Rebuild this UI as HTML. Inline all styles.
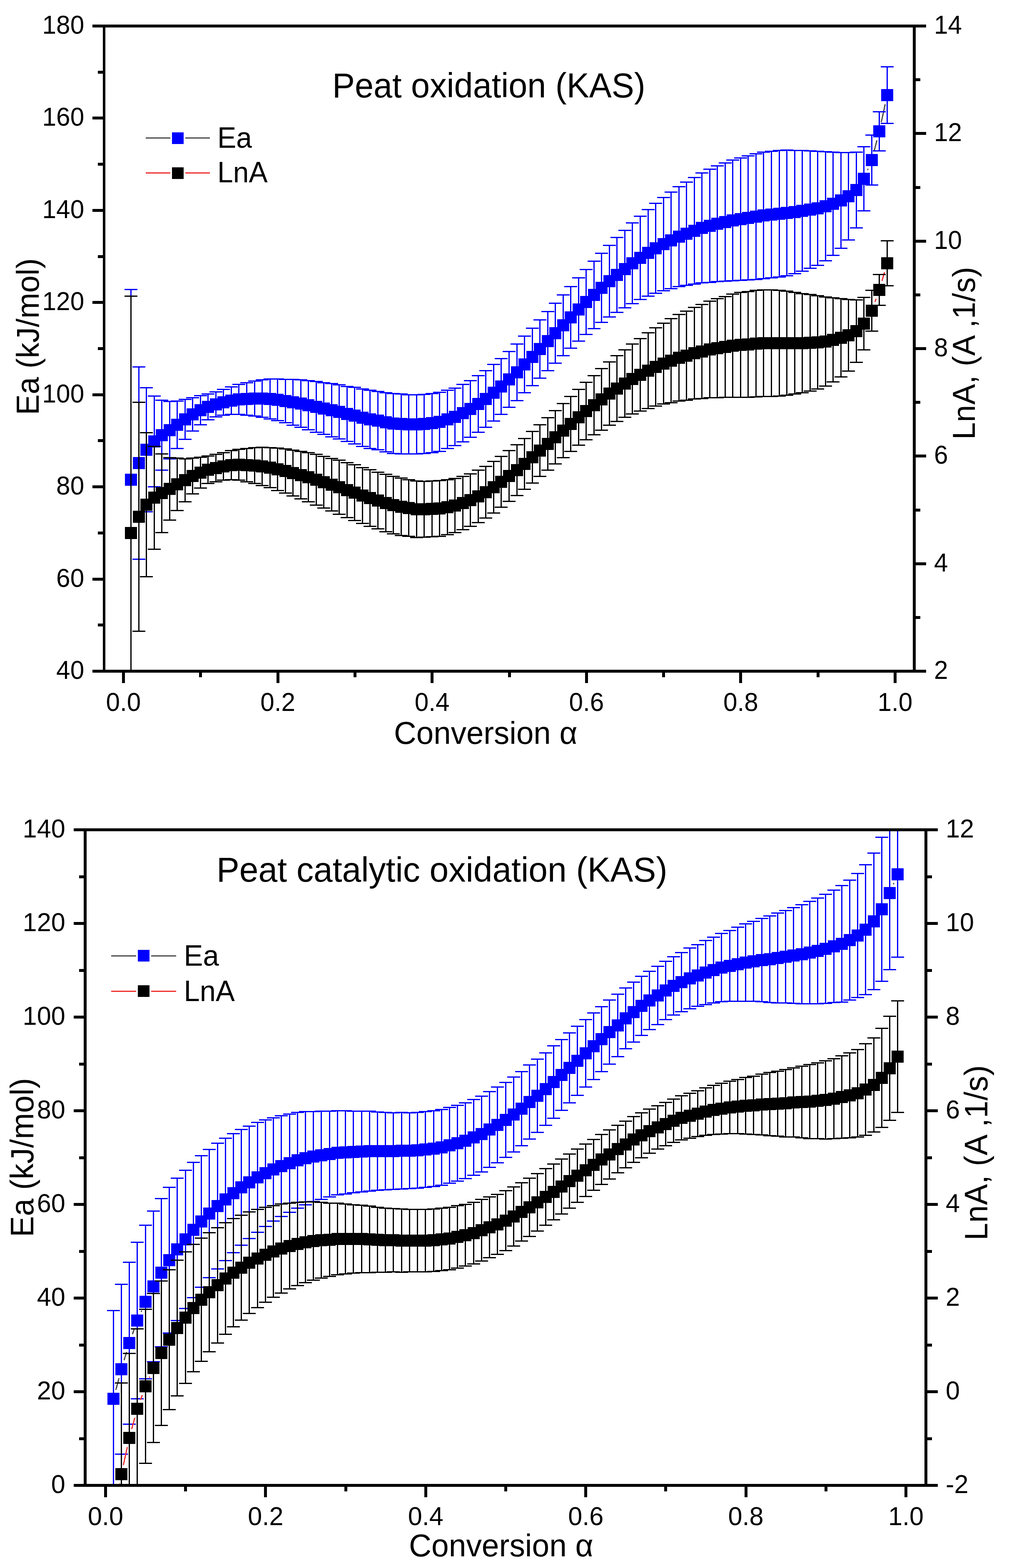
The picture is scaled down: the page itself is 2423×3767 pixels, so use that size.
<!DOCTYPE html>
<html lang="en"><head><meta charset="utf-8"><title>Peat oxidation kinetics (KAS)</title>
<style>html,body{margin:0;padding:0;background:#fff}svg{display:block}text{font-family:'Liberation Sans', sans-serif}</style>
</head><body>
<svg width="2423" height="3767" viewBox="0 0 2423 3767" role="img" aria-label="Activation energy Ea and LnA versus conversion for peat oxidation and peat catalytic oxidation (KAS)">
<rect width="2423" height="3767" fill="#fff"/>
<clipPath id="clip1"><rect x="250" y="62.5" width="1945.5" height="1550"/></clipPath>
<g clip-path="url(#clip1)" shape-rendering="crispEdges">
<path d="M2083.3 408.8L2084.7 405.2M2099.2 362.7L2105.8 337.3M2116.3 293.5L2125.7 250.5" stroke="#4d4d4d" stroke-width="3" fill="none"/>
<path d="M314.5 695.5V1609.5M299 695.5h31M333.5 881.5V1343.5M318 881.5h31M318 1343.5h31M351.5 931.5V1229.5M336 931.5h31M336 1229.5h31M370.5 951.5V1169.5M355 951.5h31M355 1169.5h31M388.5 961.5V1129.5M373 961.5h31M373 1129.5h31M407.5 964.5V1102.5M392 964.5h31M392 1102.5h31M425.5 963.5V1077.5M410 963.5h31M410 1077.5h31M444.5 959.5V1055.5M429 959.5h31M429 1055.5h31M462.5 955.5V1035.5M447 955.5h31M447 1035.5h31M481.5 950.5V1020.5M466 950.5h31M466 1020.5h31M499.5 946.5V1008.5M484 946.5h31M484 1008.5h31M518.5 941.5V1001.5M503 941.5h31M503 1001.5h31M536.5 935.5V997.5M521 935.5h31M521 997.5h31M555.5 929.5V995.5M540 929.5h31M540 995.5h31M573.5 923.5V995.5M558 923.5h31M558 995.5h31M592.5 919.5V997.5M577 919.5h31M577 997.5h31M611.5 915.5V999.5M596 915.5h31M596 999.5h31M629.5 912.5V1002.5M614 912.5h31M614 1002.5h31M648.5 910.5V1006.5M633 910.5h31M633 1006.5h31M666.5 910.5V1010.5M651 910.5h31M651 1010.5h31M685.5 911.5V1015.5M670 911.5h31M670 1015.5h31M703.5 911.5V1021.5M688 911.5h31M688 1021.5h31M722.5 912.5V1026.5M707 912.5h31M707 1026.5h31M740.5 914.5V1032.5M725 914.5h31M725 1032.5h31M759.5 916.5V1038.5M744 916.5h31M744 1038.5h31M777.5 919.5V1043.5M762 919.5h31M762 1043.5h31M796.5 921.5V1049.5M781 921.5h31M781 1049.5h31M814.5 924.5V1054.5M799 924.5h31M799 1054.5h31M833.5 928.5V1060.5M818 928.5h31M818 1060.5h31M851.5 930.5V1066.5M836 930.5h31M836 1066.5h31M870.5 934.5V1072.5M855 934.5h31M855 1072.5h31M888.5 937.5V1077.5M873 937.5h31M873 1077.5h31M907.5 940.5V1080.5M892 940.5h31M892 1080.5h31M926.5 943.5V1085.5M911 943.5h31M911 1085.5h31M944.5 945.5V1089.5M929 945.5h31M929 1089.5h31M963.5 946.5V1090.5M948 946.5h31M948 1090.5h31M981.5 948.5V1090.5M966 948.5h31M966 1090.5h31M1000.5 948.5V1090.5M985 948.5h31M985 1090.5h31M1018.5 947.5V1089.5M1003 947.5h31M1003 1089.5h31M1037.5 945.5V1087.5M1022 945.5h31M1022 1087.5h31M1055.5 942.5V1084.5M1040 942.5h31M1040 1084.5h31M1074.5 937.5V1077.5M1059 937.5h31M1059 1077.5h31M1092.5 932.5V1070.5M1077 932.5h31M1077 1070.5h31M1111.5 923.5V1061.5M1096 923.5h31M1096 1061.5h31M1129.5 914.5V1050.5M1114 914.5h31M1114 1050.5h31M1148.5 902.5V1038.5M1133 902.5h31M1133 1038.5h31M1166.5 890.5V1026.5M1151 890.5h31M1151 1026.5h31M1185.5 875.5V1011.5M1170 875.5h31M1170 1011.5h31M1203.5 861.5V995.5M1188 861.5h31M1188 995.5h31M1222.5 844.5V978.5M1207 844.5h31M1207 978.5h31M1241.5 826.5V962.5M1226 826.5h31M1226 962.5h31M1259.5 807.5V943.5M1244 807.5h31M1244 943.5h31M1278.5 788.5V926.5M1263 788.5h31M1263 926.5h31M1296.5 768.5V908.5M1281 768.5h31M1281 908.5h31M1315.5 748.5V890.5M1300 748.5h31M1300 890.5h31M1333.5 728.5V872.5M1318 728.5h31M1318 872.5h31M1352.5 708.5V854.5M1337 708.5h31M1337 854.5h31M1370.5 688.5V836.5M1355 688.5h31M1355 836.5h31M1389.5 667.5V819.5M1374 667.5h31M1374 819.5h31M1407.5 647.5V803.5M1392 647.5h31M1392 803.5h31M1426.5 627.5V789.5M1411 627.5h31M1411 789.5h31M1444.5 608.5V774.5M1429 608.5h31M1429 774.5h31M1463.5 589.5V761.5M1448 589.5h31M1448 761.5h31M1481.5 570.5V750.5M1466 570.5h31M1466 750.5h31M1500.5 553.5V739.5M1485 553.5h31M1485 739.5h31M1518.5 535.5V729.5M1503 535.5h31M1503 729.5h31M1537.5 519.5V719.5M1522 519.5h31M1522 719.5h31M1556.5 503.5V711.5M1541 503.5h31M1541 711.5h31M1574.5 488.5V704.5M1559 488.5h31M1559 704.5h31M1593.5 474.5V698.5M1578 474.5h31M1578 698.5h31M1611.5 461.5V693.5M1596 461.5h31M1596 693.5h31M1630.5 448.5V688.5M1615 448.5h31M1615 688.5h31M1648.5 437.5V685.5M1633 437.5h31M1633 685.5h31M1667.5 426.5V682.5M1652 426.5h31M1652 682.5h31M1685.5 415.5V679.5M1670 415.5h31M1670 679.5h31M1704.5 406.5V678.5M1689 406.5h31M1689 678.5h31M1722.5 398.5V676.5M1707 398.5h31M1707 676.5h31M1741.5 391.5V675.5M1726 391.5h31M1726 675.5h31M1759.5 384.5V674.5M1744 384.5h31M1744 674.5h31M1778.5 379.5V673.5M1763 379.5h31M1763 673.5h31M1796.5 374.5V672.5M1781 374.5h31M1781 672.5h31M1815.5 369.5V671.5M1800 369.5h31M1800 671.5h31M1833.5 365.5V669.5M1818 365.5h31M1818 669.5h31M1852.5 363.5V667.5M1837 363.5h31M1837 667.5h31M1871.5 361.5V665.5M1856 361.5h31M1856 665.5h31M1889.5 360.5V662.5M1874 360.5h31M1874 662.5h31M1908.5 361.5V657.5M1893 361.5h31M1893 657.5h31M1926.5 361.5V651.5M1911 361.5h31M1911 651.5h31M1945.5 362.5V644.5M1930 362.5h31M1930 644.5h31M1963.5 363.5V637.5M1948 363.5h31M1948 637.5h31M1982.5 364.5V626.5M1967 364.5h31M1967 626.5h31M2000.5 365.5V613.5M1985 365.5h31M1985 613.5h31M2019.5 366.5V596.5M2004 366.5h31M2004 596.5h31M2037.5 366.5V576.5M2022 366.5h31M2022 576.5h31M2056.5 365.5V547.5M2041 365.5h31M2041 547.5h31M2074.5 352.5V506.5M2059 352.5h31M2059 506.5h31M2093.5 324.5V444.5M2078 324.5h31M2078 444.5h31M2111.5 268.5V362.5M2096 268.5h31M2096 362.5h31M2130.5 160.5V296.5M2115 160.5h31M2115 296.5h31" stroke="#0000ff" stroke-width="3" fill="none"/>
<path d="M300 1138h29v29h-29zM319 1098h29v29h-29zM337 1066h29v29h-29zM356 1046h29v29h-29zM374 1031h29v29h-29zM393 1019h29v29h-29zM411 1006h29v29h-29zM430 993h29v29h-29zM448 981h29v29h-29zM467 971h29v29h-29zM485 963h29v29h-29zM504 957h29v29h-29zM522 952h29v29h-29zM541 948h29v29h-29zM559 945h29v29h-29zM578 944h29v29h-29zM597 943h29v29h-29zM615 943h29v29h-29zM634 944h29v29h-29zM652 946h29v29h-29zM671 949h29v29h-29zM689 952h29v29h-29zM708 955h29v29h-29zM726 959h29v29h-29zM745 963h29v29h-29zM763 967h29v29h-29zM782 971h29v29h-29zM800 975h29v29h-29zM819 980h29v29h-29zM837 984h29v29h-29zM856 989h29v29h-29zM874 993h29v29h-29zM893 996h29v29h-29zM912 1000h29v29h-29zM930 1003h29v29h-29zM949 1004h29v29h-29zM967 1005h29v29h-29zM986 1005h29v29h-29zM1004 1004h29v29h-29zM1023 1002h29v29h-29zM1041 999h29v29h-29zM1060 993h29v29h-29zM1078 987h29v29h-29zM1097 978h29v29h-29zM1115 968h29v29h-29zM1134 956h29v29h-29zM1152 944h29v29h-29zM1171 929h29v29h-29zM1189 914h29v29h-29zM1208 897h29v29h-29zM1227 880h29v29h-29zM1245 861h29v29h-29zM1264 843h29v29h-29zM1282 824h29v29h-29zM1301 805h29v29h-29zM1319 786h29v29h-29zM1338 767h29v29h-29zM1356 748h29v29h-29zM1375 729h29v29h-29zM1393 711h29v29h-29zM1412 694h29v29h-29zM1430 677h29v29h-29zM1449 661h29v29h-29zM1467 646h29v29h-29zM1486 632h29v29h-29zM1504 618h29v29h-29zM1523 605h29v29h-29zM1542 593h29v29h-29zM1560 582h29v29h-29zM1579 572h29v29h-29zM1597 563h29v29h-29zM1616 554h29v29h-29zM1634 547h29v29h-29zM1653 540h29v29h-29zM1671 533h29v29h-29zM1690 528h29v29h-29zM1708 523h29v29h-29zM1727 519h29v29h-29zM1745 515h29v29h-29zM1764 512h29v29h-29zM1782 509h29v29h-29zM1801 506h29v29h-29zM1819 503h29v29h-29zM1838 501h29v29h-29zM1857 499h29v29h-29zM1875 497h29v29h-29zM1894 495h29v29h-29zM1912 492h29v29h-29zM1931 489h29v29h-29zM1949 486h29v29h-29zM1968 481h29v29h-29zM1986 475h29v29h-29zM2005 467h29v29h-29zM2023 457h29v29h-29zM2042 442h29v29h-29zM2060 415h29v29h-29zM2079 370h29v29h-29zM2097 301h29v29h-29zM2116 214h29v29h-29z" fill="#0000ff"/>
<path d="M2101.1 725.3L2103.9 717.7M2117.9 674.9L2124.1 654.1" stroke="#f03232" stroke-width="3" fill="none"/>
<path d="M314.5 711.5V1849.5M299 711.5h31M333.5 966.5V1516.5M318 966.5h31M318 1516.5h31M351.5 1039.5V1385.5M336 1039.5h31M336 1385.5h31M370.5 1072.5V1319.5M355 1072.5h31M355 1319.5h31M388.5 1090.5V1279.5M373 1090.5h31M373 1279.5h31M407.5 1099.5V1249.5M392 1099.5h31M392 1249.5h31M425.5 1100.5V1226.5M410 1100.5h31M410 1226.5h31M444.5 1102.5V1205.5M429 1102.5h31M429 1205.5h31M462.5 1100.5V1186.5M447 1100.5h31M447 1186.5h31M481.5 1098.5V1172.5M466 1098.5h31M466 1172.5h31M499.5 1095.5V1161.5M484 1095.5h31M484 1161.5h31M518.5 1091.5V1157.5M503 1091.5h31M503 1157.5h31M536.5 1087.5V1153.5M521 1087.5h31M521 1153.5h31M555.5 1082.5V1152.5M540 1082.5h31M540 1152.5h31M573.5 1079.5V1153.5M558 1079.5h31M558 1153.5h31M592.5 1077.5V1157.5M577 1077.5h31M577 1157.5h31M611.5 1075.5V1161.5M596 1075.5h31M596 1161.5h31M629.5 1074.5V1166.5M614 1074.5h31M614 1166.5h31M648.5 1075.5V1171.5M633 1075.5h31M633 1171.5h31M666.5 1076.5V1178.5M651 1076.5h31M651 1178.5h31M685.5 1078.5V1184.5M670 1078.5h31M670 1184.5h31M703.5 1081.5V1191.5M688 1081.5h31M688 1191.5h31M722.5 1084.5V1198.5M707 1084.5h31M707 1198.5h31M740.5 1087.5V1205.5M725 1087.5h31M725 1205.5h31M759.5 1091.5V1213.5M744 1091.5h31M744 1213.5h31M777.5 1096.5V1220.5M762 1096.5h31M762 1220.5h31M796.5 1101.5V1227.5M781 1101.5h31M781 1227.5h31M814.5 1105.5V1235.5M799 1105.5h31M799 1235.5h31M833.5 1111.5V1243.5M818 1111.5h31M818 1243.5h31M851.5 1116.5V1250.5M836 1116.5h31M836 1250.5h31M870.5 1123.5V1257.5M855 1123.5h31M855 1257.5h31M888.5 1128.5V1264.5M873 1128.5h31M873 1264.5h31M907.5 1134.5V1270.5M892 1134.5h31M892 1270.5h31M926.5 1139.5V1277.5M911 1139.5h31M911 1277.5h31M944.5 1144.5V1282.5M929 1144.5h31M929 1282.5h31M963.5 1148.5V1286.5M948 1148.5h31M948 1286.5h31M981.5 1152.5V1288.5M966 1152.5h31M966 1288.5h31M1000.5 1155.5V1291.5M985 1155.5h31M985 1291.5h31M1018.5 1156.5V1290.5M1003 1156.5h31M1003 1290.5h31M1037.5 1155.5V1289.5M1022 1155.5h31M1022 1289.5h31M1055.5 1154.5V1288.5M1040 1154.5h31M1040 1288.5h31M1074.5 1152.5V1284.5M1059 1152.5h31M1059 1284.5h31M1092.5 1149.5V1279.5M1077 1149.5h31M1077 1279.5h31M1111.5 1144.5V1272.5M1096 1144.5h31M1096 1272.5h31M1129.5 1138.5V1264.5M1114 1138.5h31M1114 1264.5h31M1148.5 1129.5V1255.5M1133 1129.5h31M1133 1255.5h31M1166.5 1120.5V1244.5M1151 1120.5h31M1151 1244.5h31M1185.5 1108.5V1232.5M1170 1108.5h31M1170 1232.5h31M1203.5 1096.5V1218.5M1188 1096.5h31M1188 1218.5h31M1222.5 1082.5V1204.5M1207 1082.5h31M1207 1204.5h31M1241.5 1068.5V1190.5M1226 1068.5h31M1226 1190.5h31M1259.5 1053.5V1175.5M1244 1053.5h31M1244 1175.5h31M1278.5 1036.5V1160.5M1263 1036.5h31M1263 1160.5h31M1296.5 1020.5V1144.5M1281 1020.5h31M1281 1144.5h31M1315.5 1003.5V1129.5M1300 1003.5h31M1300 1129.5h31M1333.5 986.5V1114.5M1318 986.5h31M1318 1114.5h31M1352.5 969.5V1099.5M1337 969.5h31M1337 1099.5h31M1370.5 952.5V1084.5M1355 952.5h31M1355 1084.5h31M1389.5 935.5V1069.5M1374 935.5h31M1374 1069.5h31M1407.5 918.5V1056.5M1392 918.5h31M1392 1056.5h31M1426.5 902.5V1044.5M1411 902.5h31M1411 1044.5h31M1444.5 885.5V1033.5M1429 885.5h31M1429 1033.5h31M1463.5 869.5V1021.5M1448 869.5h31M1448 1021.5h31M1481.5 854.5V1012.5M1466 854.5h31M1466 1012.5h31M1500.5 840.5V1002.5M1485 840.5h31M1485 1002.5h31M1518.5 826.5V994.5M1503 826.5h31M1503 994.5h31M1537.5 813.5V987.5M1522 813.5h31M1522 987.5h31M1556.5 799.5V981.5M1541 799.5h31M1541 981.5h31M1574.5 787.5V975.5M1559 787.5h31M1559 975.5h31M1593.5 776.5V970.5M1578 776.5h31M1578 970.5h31M1611.5 765.5V967.5M1596 765.5h31M1596 967.5h31M1630.5 755.5V963.5M1615 755.5h31M1615 963.5h31M1648.5 747.5V961.5M1633 747.5h31M1633 961.5h31M1667.5 738.5V958.5M1652 738.5h31M1652 958.5h31M1685.5 731.5V957.5M1670 731.5h31M1670 957.5h31M1704.5 723.5V955.5M1689 723.5h31M1689 955.5h31M1722.5 717.5V955.5M1707 717.5h31M1707 955.5h31M1741.5 712.5V954.5M1726 712.5h31M1726 954.5h31M1759.5 706.5V954.5M1744 706.5h31M1744 954.5h31M1778.5 702.5V954.5M1763 702.5h31M1763 954.5h31M1796.5 700.5V954.5M1781 700.5h31M1781 954.5h31M1815.5 697.5V953.5M1800 697.5h31M1800 953.5h31M1833.5 696.5V952.5M1818 696.5h31M1818 952.5h31M1852.5 696.5V952.5M1837 696.5h31M1837 952.5h31M1871.5 697.5V951.5M1856 697.5h31M1856 951.5h31M1889.5 699.5V949.5M1874 699.5h31M1874 949.5h31M1908.5 702.5V946.5M1893 702.5h31M1893 946.5h31M1926.5 705.5V943.5M1911 705.5h31M1911 943.5h31M1945.5 707.5V939.5M1930 707.5h31M1930 939.5h31M1963.5 710.5V934.5M1948 710.5h31M1948 934.5h31M1982.5 713.5V927.5M1967 713.5h31M1967 927.5h31M2000.5 715.5V917.5M1985 715.5h31M1985 917.5h31M2019.5 717.5V905.5M2004 717.5h31M2004 905.5h31M2037.5 719.5V891.5M2022 719.5h31M2022 891.5h31M2056.5 720.5V870.5M2041 720.5h31M2041 870.5h31M2074.5 714.5V840.5M2059 714.5h31M2059 840.5h31M2093.5 697.5V795.5M2078 697.5h31M2078 795.5h31M2111.5 659.5V733.5M2096 659.5h31M2096 733.5h31M2130.5 578.5V686.5M2115 578.5h31M2115 686.5h31" stroke="#000000" stroke-width="3" fill="none"/>
<path d="M300 1266h29v29h-29zM319 1227h29v29h-29zM337 1198h29v29h-29zM356 1181h29v29h-29zM374 1170h29v29h-29zM393 1160h29v29h-29zM411 1149h29v29h-29zM430 1139h29v29h-29zM448 1129h29v29h-29zM467 1121h29v29h-29zM485 1114h29v29h-29zM504 1110h29v29h-29zM522 1106h29v29h-29zM541 1103h29v29h-29zM559 1102h29v29h-29zM578 1103h29v29h-29zM597 1104h29v29h-29zM615 1106h29v29h-29zM634 1109h29v29h-29zM652 1113h29v29h-29zM671 1117h29v29h-29zM689 1122h29v29h-29zM708 1127h29v29h-29zM726 1132h29v29h-29zM745 1138h29v29h-29zM763 1144h29v29h-29zM782 1150h29v29h-29zM800 1156h29v29h-29zM819 1163h29v29h-29zM837 1169h29v29h-29zM856 1176h29v29h-29zM874 1182h29v29h-29zM893 1188h29v29h-29zM912 1194h29v29h-29zM930 1199h29v29h-29zM949 1203h29v29h-29zM967 1206h29v29h-29zM986 1209h29v29h-29zM1004 1209h29v29h-29zM1023 1208h29v29h-29zM1041 1207h29v29h-29zM1060 1204h29v29h-29zM1078 1200h29v29h-29zM1097 1194h29v29h-29zM1115 1187h29v29h-29zM1134 1178h29v29h-29zM1152 1168h29v29h-29zM1171 1156h29v29h-29zM1189 1143h29v29h-29zM1208 1129h29v29h-29zM1227 1115h29v29h-29zM1245 1100h29v29h-29zM1264 1084h29v29h-29zM1282 1068h29v29h-29zM1301 1052h29v29h-29zM1319 1036h29v29h-29zM1338 1020h29v29h-29zM1356 1004h29v29h-29zM1375 988h29v29h-29zM1393 973h29v29h-29zM1412 959h29v29h-29zM1430 945h29v29h-29zM1449 931h29v29h-29zM1467 919h29v29h-29zM1486 907h29v29h-29zM1504 896h29v29h-29zM1523 886h29v29h-29zM1542 876h29v29h-29zM1560 867h29v29h-29zM1579 859h29v29h-29zM1597 852h29v29h-29zM1616 845h29v29h-29zM1634 840h29v29h-29zM1653 834h29v29h-29zM1671 830h29v29h-29zM1690 825h29v29h-29zM1708 822h29v29h-29zM1727 819h29v29h-29zM1745 816h29v29h-29zM1764 814h29v29h-29zM1782 813h29v29h-29zM1801 811h29v29h-29zM1819 810h29v29h-29zM1838 810h29v29h-29zM1857 810h29v29h-29zM1875 810h29v29h-29zM1894 810h29v29h-29zM1912 810h29v29h-29zM1931 809h29v29h-29zM1949 808h29v29h-29zM1968 806h29v29h-29zM1986 802h29v29h-29zM2005 797h29v29h-29zM2023 791h29v29h-29zM2042 781h29v29h-29zM2060 763h29v29h-29zM2079 732h29v29h-29zM2097 682h29v29h-29zM2116 618h29v29h-29z" fill="#000000"/>
</g>
<path d="M250 62.5V1612.5" stroke="#000" stroke-width="6" fill="none" shape-rendering="crispEdges"/>
<path d="M222 62.5H2224M222 1612.5H2224M2195.5 62.5V1612.5M235 1501.8H250M222 1391.1H250M235 1280.4H250M222 1169.6H250M235 1058.9H250M222 948.2H250M235 837.5H250M222 726.8H250M235 616.1H250M222 505.4H250M235 394.6H250M222 283.9H250M235 173.2H250M2195.5 1483.3H2210M2195.5 1354.2H2224M2195.5 1225H2210M2195.5 1095.8H2224M2195.5 966.7H2210M2195.5 837.5H2224M2195.5 708.3H2210M2195.5 579.2H2224M2195.5 450H2210M2195.5 320.8H2224M2195.5 191.7H2210M296.5 1612.5V1641M481.8 1612.5V1627M667.1 1612.5V1641M852.4 1612.5V1627M1037.7 1612.5V1641M1223 1612.5V1627M1408.3 1612.5V1641M1593.6 1612.5V1627M1778.9 1612.5V1641M1964.2 1612.5V1627M2149.5 1612.5V1641" stroke="#000" stroke-width="7" fill="none" shape-rendering="crispEdges"/>
<g font-size="60.3" fill="#000">
<text transform="translate(202.2 1631) scale(1 1.035)" text-anchor="end">40</text>
<text transform="translate(202.2 1409.6) scale(1 1.035)" text-anchor="end">60</text>
<text transform="translate(202.2 1188.1) scale(1 1.035)" text-anchor="end">80</text>
<text transform="translate(202.2 966.7) scale(1 1.035)" text-anchor="end">100</text>
<text transform="translate(202.2 745.3) scale(1 1.035)" text-anchor="end">120</text>
<text transform="translate(202.2 523.9) scale(1 1.035)" text-anchor="end">140</text>
<text transform="translate(202.2 302.4) scale(1 1.035)" text-anchor="end">160</text>
<text transform="translate(202.2 81) scale(1 1.035)" text-anchor="end">180</text>
<text transform="translate(2243 1631) scale(1 1.035)">2</text>
<text transform="translate(2243 1372.7) scale(1 1.035)">4</text>
<text transform="translate(2243 1114.3) scale(1 1.035)">6</text>
<text transform="translate(2243 856) scale(1 1.035)">8</text>
<text transform="translate(2243 597.7) scale(1 1.035)">10</text>
<text transform="translate(2243 339.3) scale(1 1.035)">12</text>
<text transform="translate(2243 81) scale(1 1.035)">14</text>
<text transform="translate(296.5 1708.4) scale(1 1.035)" text-anchor="middle">0.0</text>
<text transform="translate(667.1 1708.4) scale(1 1.035)" text-anchor="middle">0.2</text>
<text transform="translate(1037.7 1708.4) scale(1 1.035)" text-anchor="middle">0.4</text>
<text transform="translate(1408.3 1708.4) scale(1 1.035)" text-anchor="middle">0.6</text>
<text transform="translate(1778.9 1708.4) scale(1 1.035)" text-anchor="middle">0.8</text>
<text transform="translate(2149.5 1708.4) scale(1 1.035)" text-anchor="middle">1.0</text>
</g>
<text transform="translate(798 233.8) scale(1 1.025)" font-size="81.0">Peat oxidation (KAS)</text>
<text transform="translate(946 1786.6) scale(1 1.025)" font-size="74.5">Conversion α</text>
<text transform="translate(93 997) rotate(-90) scale(1 1.025)" font-size="74.5">Ea (kJ/mol)</text>
<text transform="translate(2341 1056) rotate(-90) scale(1 1.025)" font-size="74.5" letter-spacing="0.42">LnA, (A ,1/s)</text>
<g shape-rendering="crispEdges">
<path d="M350 331.5H409M445 331.5H504" stroke="#4d4d4d" stroke-width="3" fill="none"/>
<rect x="413" y="318" width="28" height="28" fill="#0000ff"/>
<path d="M350 415.5H409M445 415.5H504" stroke="#f03232" stroke-width="3" fill="none"/>
<rect x="413" y="402" width="28" height="28" fill="#000000"/>
</g>
<text transform="translate(522 354.5) scale(1 1.025)" font-size="67.8">Ea</text>
<text transform="translate(522 438.3) scale(1 1.025)" font-size="67.8">LnA</text>
<clipPath id="clip2"><rect x="204.5" y="1993.5" width="2019" height="1575"/></clipPath>
<g clip-path="url(#clip2)" shape-rendering="crispEdges">
<path d="M278.3 3338.8L285.7 3311.2M298 3268L304 3248M318 3205.3L322 3193.7M338.6 3151.9L340.4 3148.1M2145.3 2124.8L2146.7 2121.2" stroke="#4d4d4d" stroke-width="3" fill="none"/>
<path d="M272.5 3148.5V3572.5M257 3148.5h31M291.5 3085.5V3493.5M276 3085.5h31M276 3493.5h31M310.5 3032.5V3421.5M295 3032.5h31M295 3421.5h31M329.5 2984.5V3360.5M314 2984.5h31M314 3360.5h31M349.5 2943.5V3312.5M334 2943.5h31M334 3312.5h31M368.5 2909.5V3271.5M353 2909.5h31M353 3271.5h31M387.5 2879.5V3235.5M372 2879.5h31M372 3235.5h31M406.5 2852.5V3202.5M391 2852.5h31M391 3202.5h31M425.5 2830.5V3172.5M410 2830.5h31M410 3172.5h31M445.5 2811.5V3143.5M430 2811.5h31M430 3143.5h31M464.5 2792.5V3117.5M449 2792.5h31M449 3117.5h31M483.5 2776.5V3092.5M468 2776.5h31M468 3092.5h31M502.5 2761.5V3069.5M487 2761.5h31M487 3069.5h31M522.5 2746.5V3048.5M507 2746.5h31M507 3048.5h31M541.5 2734.5V3028.5M526 2734.5h31M526 3028.5h31M560.5 2723.5V3009.5M545 2723.5h31M545 3009.5h31M579.5 2713.5V2991.5M564 2713.5h31M564 2991.5h31M598.5 2705.5V2975.5M583 2705.5h31M583 2975.5h31M618.5 2696.5V2960.5M603 2696.5h31M603 2960.5h31M637.5 2690.5V2946.5M622 2690.5h31M622 2946.5h31M656.5 2685.5V2933.5M641 2685.5h31M641 2933.5h31M675.5 2680.5V2922.5M660 2680.5h31M660 2922.5h31M695.5 2676.5V2912.5M680 2676.5h31M680 2912.5h31M714.5 2672.5V2902.5M699 2672.5h31M699 2902.5h31M733.5 2670.5V2894.5M718 2670.5h31M718 2894.5h31M752.5 2670.5V2886.5M737 2670.5h31M737 2886.5h31M771.5 2669.5V2881.5M756 2669.5h31M756 2881.5h31M791.5 2669.5V2875.5M776 2669.5h31M776 2875.5h31M810.5 2668.5V2870.5M795 2668.5h31M795 2870.5h31M829.5 2668.5V2868.5M814 2668.5h31M814 2868.5h31M848.5 2669.5V2865.5M833 2669.5h31M833 2865.5h31M868.5 2669.5V2863.5M853 2669.5h31M853 2863.5h31M887.5 2669.5V2861.5M872 2669.5h31M872 2861.5h31M906.5 2671.5V2859.5M891 2671.5h31M891 2859.5h31M925.5 2672.5V2858.5M910 2672.5h31M910 2858.5h31M944.5 2673.5V2857.5M929 2673.5h31M929 2857.5h31M964.5 2672.5V2856.5M949 2672.5h31M949 2856.5h31M983.5 2673.5V2855.5M968 2673.5h31M968 2855.5h31M1002.5 2672.5V2854.5M987 2672.5h31M987 2854.5h31M1021.5 2670.5V2852.5M1006 2670.5h31M1006 2852.5h31M1041.5 2668.5V2850.5M1026 2668.5h31M1026 2850.5h31M1060.5 2665.5V2847.5M1045 2665.5h31M1045 2847.5h31M1079.5 2660.5V2842.5M1064 2660.5h31M1064 2842.5h31M1098.5 2655.5V2837.5M1083 2655.5h31M1083 2837.5h31M1117.5 2649.5V2831.5M1102 2649.5h31M1102 2831.5h31M1137.5 2641.5V2823.5M1122 2641.5h31M1122 2823.5h31M1156.5 2633.5V2815.5M1141 2633.5h31M1141 2815.5h31M1175.5 2622.5V2804.5M1160 2622.5h31M1160 2804.5h31M1194.5 2611.5V2793.5M1179 2611.5h31M1179 2793.5h31M1214.5 2600.5V2780.5M1199 2600.5h31M1199 2780.5h31M1233.5 2587.5V2767.5M1218 2587.5h31M1218 2767.5h31M1252.5 2574.5V2752.5M1237 2574.5h31M1237 2752.5h31M1271.5 2558.5V2736.5M1256 2558.5h31M1256 2736.5h31M1290.5 2544.5V2720.5M1275 2544.5h31M1275 2720.5h31M1310.5 2529.5V2703.5M1295 2529.5h31M1295 2703.5h31M1329.5 2512.5V2686.5M1314 2512.5h31M1314 2686.5h31M1348.5 2497.5V2667.5M1333 2497.5h31M1333 2667.5h31M1367.5 2481.5V2649.5M1352 2481.5h31M1352 2649.5h31M1386.5 2465.5V2631.5M1371 2465.5h31M1371 2631.5h31M1406.5 2449.5V2611.5M1391 2449.5h31M1391 2611.5h31M1425.5 2433.5V2593.5M1410 2433.5h31M1410 2593.5h31M1444.5 2418.5V2574.5M1429 2418.5h31M1429 2574.5h31M1463.5 2402.5V2556.5M1448 2402.5h31M1448 2556.5h31M1483.5 2388.5V2538.5M1468 2388.5h31M1468 2538.5h31M1502.5 2373.5V2519.5M1487 2373.5h31M1487 2519.5h31M1521.5 2359.5V2503.5M1506 2359.5h31M1506 2503.5h31M1540.5 2345.5V2487.5M1525 2345.5h31M1525 2487.5h31M1559.5 2333.5V2473.5M1544 2333.5h31M1544 2473.5h31M1579.5 2321.5V2461.5M1564 2321.5h31M1564 2461.5h31M1598.5 2309.5V2449.5M1583 2309.5h31M1583 2449.5h31M1617.5 2298.5V2438.5M1602 2298.5h31M1602 2438.5h31M1636.5 2288.5V2430.5M1621 2288.5h31M1621 2430.5h31M1656.5 2277.5V2423.5M1641 2277.5h31M1641 2423.5h31M1675.5 2269.5V2417.5M1660 2269.5h31M1660 2417.5h31M1694.5 2259.5V2413.5M1679 2259.5h31M1679 2413.5h31M1713.5 2251.5V2409.5M1698 2251.5h31M1698 2409.5h31M1732.5 2242.5V2406.5M1717 2242.5h31M1717 2406.5h31M1752.5 2235.5V2405.5M1737 2235.5h31M1737 2405.5h31M1771.5 2227.5V2405.5M1756 2227.5h31M1756 2405.5h31M1790.5 2219.5V2405.5M1775 2219.5h31M1775 2405.5h31M1809.5 2213.5V2405.5M1794 2213.5h31M1794 2405.5h31M1829.5 2206.5V2406.5M1814 2206.5h31M1814 2406.5h31M1848.5 2200.5V2408.5M1833 2200.5h31M1833 2408.5h31M1867.5 2193.5V2409.5M1852 2193.5h31M1852 2409.5h31M1886.5 2187.5V2409.5M1871 2187.5h31M1871 2409.5h31M1905.5 2180.5V2410.5M1890 2180.5h31M1890 2410.5h31M1925.5 2173.5V2411.5M1910 2173.5h31M1910 2411.5h31M1944.5 2165.5V2411.5M1929 2165.5h31M1929 2411.5h31M1963.5 2157.5V2411.5M1948 2157.5h31M1948 2411.5h31M1982.5 2148.5V2410.5M1967 2148.5h31M1967 2410.5h31M2002.5 2138.5V2408.5M1987 2138.5h31M1987 2408.5h31M2021.5 2127.5V2407.5M2006 2127.5h31M2006 2407.5h31M2040.5 2114.5V2402.5M2025 2114.5h31M2025 2402.5h31M2059.5 2098.5V2396.5M2044 2098.5h31M2044 2396.5h31M2078.5 2077.5V2389.5M2063 2077.5h31M2063 2389.5h31M2098.5 2049.5V2377.5M2083 2049.5h31M2083 2377.5h31M2117.5 2011.5V2357.5M2102 2011.5h31M2102 2357.5h31M2136.5 1961.5V2329.5M2121 2329.5h31M2155.5 1901.5V2299.5M2140 2299.5h31" stroke="#0000ff" stroke-width="3" fill="none"/>
<path d="M258 3346h29v29h-29zM277 3275h29v29h-29zM296 3212h29v29h-29zM315 3158h29v29h-29zM335 3113h29v29h-29zM354 3076h29v29h-29zM373 3043h29v29h-29zM392 3013h29v29h-29zM411 2987h29v29h-29zM431 2963h29v29h-29zM450 2940h29v29h-29zM469 2920h29v29h-29zM488 2901h29v29h-29zM508 2883h29v29h-29zM527 2867h29v29h-29zM546 2852h29v29h-29zM565 2838h29v29h-29zM584 2826h29v29h-29zM604 2814h29v29h-29zM623 2804h29v29h-29zM642 2795h29v29h-29zM661 2787h29v29h-29zM681 2780h29v29h-29zM700 2773h29v29h-29zM719 2768h29v29h-29zM738 2764h29v29h-29zM757 2761h29v29h-29zM777 2758h29v29h-29zM796 2755h29v29h-29zM815 2754h29v29h-29zM834 2753h29v29h-29zM854 2752h29v29h-29zM873 2751h29v29h-29zM892 2751h29v29h-29zM911 2751h29v29h-29zM930 2751h29v29h-29zM950 2750h29v29h-29zM969 2750h29v29h-29zM988 2749h29v29h-29zM1007 2747h29v29h-29zM1027 2745h29v29h-29zM1046 2742h29v29h-29zM1065 2737h29v29h-29zM1084 2732h29v29h-29zM1103 2726h29v29h-29zM1123 2718h29v29h-29zM1142 2710h29v29h-29zM1161 2699h29v29h-29zM1180 2688h29v29h-29zM1200 2676h29v29h-29zM1219 2663h29v29h-29zM1238 2649h29v29h-29zM1257 2633h29v29h-29zM1276 2618h29v29h-29zM1296 2602h29v29h-29zM1315 2585h29v29h-29zM1334 2568h29v29h-29zM1353 2551h29v29h-29zM1372 2534h29v29h-29zM1392 2516h29v29h-29zM1411 2499h29v29h-29zM1430 2482h29v29h-29zM1449 2465h29v29h-29zM1469 2449h29v29h-29zM1488 2432h29v29h-29zM1507 2417h29v29h-29zM1526 2402h29v29h-29zM1545 2389h29v29h-29zM1565 2377h29v29h-29zM1584 2365h29v29h-29zM1603 2354h29v29h-29zM1622 2345h29v29h-29zM1642 2336h29v29h-29zM1661 2329h29v29h-29zM1680 2322h29v29h-29zM1699 2316h29v29h-29zM1718 2310h29v29h-29zM1738 2306h29v29h-29zM1757 2302h29v29h-29zM1776 2298h29v29h-29zM1795 2295h29v29h-29zM1815 2292h29v29h-29zM1834 2290h29v29h-29zM1853 2287h29v29h-29zM1872 2284h29v29h-29zM1891 2281h29v29h-29zM1911 2278h29v29h-29zM1930 2274h29v29h-29zM1949 2270h29v29h-29zM1968 2265h29v29h-29zM1988 2259h29v29h-29zM2007 2253h29v29h-29zM2026 2244h29v29h-29zM2045 2233h29v29h-29zM2064 2219h29v29h-29zM2084 2199h29v29h-29zM2103 2170h29v29h-29zM2122 2131h29v29h-29zM2141 2086h29v29h-29z" fill="#0000ff"/>
<path d="M276 3639.3L288 3563.7M296.3 3519.5L305.7 3476.5M316.4 3432.8L323.6 3406.2M337.3 3363.4L341.7 3351.6M358.4 3309.8L359.6 3307.2" stroke="#f03232" stroke-width="3" fill="none"/>
<path d="M291.5 3322.5V3760.5M276 3322.5h31M310.5 3251.5V3657.5M295 3251.5h31M329.5 3192.5V3576.5M314 3192.5h31M349.5 3145.5V3515.5M334 3145.5h31M334 3515.5h31M368.5 3107.5V3465.5M353 3107.5h31M353 3465.5h31M387.5 3077.5V3424.5M372 3077.5h31M372 3424.5h31M406.5 3050.5V3386.5M391 3050.5h31M391 3386.5h31M425.5 3027.5V3353.5M410 3027.5h31M410 3353.5h31M445.5 3007.5V3323.5M430 3007.5h31M430 3323.5h31M464.5 2989.5V3295.5M449 2989.5h31M449 3295.5h31M483.5 2974.5V3270.5M468 2974.5h31M468 3270.5h31M502.5 2961.5V3247.5M487 2961.5h31M487 3247.5h31M522.5 2949.5V3226.5M507 2949.5h31M507 3226.5h31M541.5 2937.5V3205.5M526 2937.5h31M526 3205.5h31M560.5 2927.5V3187.5M545 2927.5h31M545 3187.5h31M579.5 2919.5V3171.5M564 2919.5h31M564 3171.5h31M598.5 2911.5V3155.5M583 2911.5h31M583 3155.5h31M618.5 2905.5V3141.5M603 2905.5h31M603 3141.5h31M637.5 2900.5V3128.5M622 2900.5h31M622 3128.5h31M656.5 2896.5V3116.5M641 2896.5h31M641 3116.5h31M675.5 2892.5V3106.5M660 2892.5h31M660 3106.5h31M695.5 2890.5V3096.5M680 2890.5h31M680 3096.5h31M714.5 2888.5V3088.5M699 2888.5h31M699 3088.5h31M733.5 2887.5V3081.5M718 2887.5h31M718 3081.5h31M752.5 2887.5V3075.5M737 2887.5h31M737 3075.5h31M771.5 2888.5V3070.5M756 2888.5h31M756 3070.5h31M791.5 2890.5V3066.5M776 2890.5h31M776 3066.5h31M810.5 2890.5V3062.5M795 2890.5h31M795 3062.5h31M829.5 2892.5V3060.5M814 2892.5h31M814 3060.5h31M848.5 2894.5V3058.5M833 2894.5h31M833 3058.5h31M868.5 2895.5V3057.5M853 2895.5h31M853 3057.5h31M887.5 2897.5V3057.5M872 2897.5h31M872 3057.5h31M906.5 2900.5V3056.5M891 2900.5h31M891 3056.5h31M925.5 2902.5V3056.5M910 2902.5h31M910 3056.5h31M944.5 2903.5V3055.5M929 2903.5h31M929 3055.5h31M964.5 2904.5V3056.5M949 2904.5h31M949 3056.5h31M983.5 2905.5V3055.5M968 2905.5h31M968 3055.5h31M1002.5 2905.5V3055.5M987 2905.5h31M987 3055.5h31M1021.5 2905.5V3055.5M1006 2905.5h31M1006 3055.5h31M1041.5 2904.5V3054.5M1026 2904.5h31M1026 3054.5h31M1060.5 2902.5V3052.5M1045 2902.5h31M1045 3052.5h31M1079.5 2900.5V3050.5M1064 2900.5h31M1064 3050.5h31M1098.5 2896.5V3046.5M1083 2896.5h31M1083 3046.5h31M1117.5 2893.5V3041.5M1102 2893.5h31M1102 3041.5h31M1137.5 2888.5V3036.5M1122 2888.5h31M1122 3036.5h31M1156.5 2881.5V3029.5M1141 2881.5h31M1141 3029.5h31M1175.5 2875.5V3021.5M1160 2875.5h31M1160 3021.5h31M1194.5 2869.5V3013.5M1179 2869.5h31M1179 3013.5h31M1214.5 2860.5V3004.5M1199 2860.5h31M1199 3004.5h31M1233.5 2851.5V2993.5M1218 2851.5h31M1218 2993.5h31M1252.5 2841.5V2981.5M1237 2841.5h31M1237 2981.5h31M1271.5 2830.5V2970.5M1256 2830.5h31M1256 2970.5h31M1290.5 2819.5V2957.5M1275 2819.5h31M1275 2957.5h31M1310.5 2807.5V2943.5M1295 2807.5h31M1295 2943.5h31M1329.5 2796.5V2930.5M1314 2796.5h31M1314 2930.5h31M1348.5 2784.5V2916.5M1333 2784.5h31M1333 2916.5h31M1367.5 2772.5V2902.5M1352 2772.5h31M1352 2902.5h31M1386.5 2760.5V2888.5M1371 2760.5h31M1371 2888.5h31M1406.5 2748.5V2874.5M1391 2748.5h31M1391 2874.5h31M1425.5 2737.5V2859.5M1410 2737.5h31M1410 2859.5h31M1444.5 2725.5V2845.5M1429 2725.5h31M1429 2845.5h31M1463.5 2714.5V2832.5M1448 2714.5h31M1448 2832.5h31M1483.5 2703.5V2817.5M1468 2703.5h31M1468 2817.5h31M1502.5 2693.5V2805.5M1487 2693.5h31M1487 2805.5h31M1521.5 2682.5V2792.5M1506 2682.5h31M1506 2792.5h31M1540.5 2673.5V2781.5M1525 2673.5h31M1525 2781.5h31M1559.5 2664.5V2770.5M1544 2664.5h31M1544 2770.5h31M1579.5 2656.5V2760.5M1564 2656.5h31M1564 2760.5h31M1598.5 2648.5V2752.5M1583 2648.5h31M1583 2752.5h31M1617.5 2640.5V2744.5M1602 2640.5h31M1602 2744.5h31M1636.5 2632.5V2738.5M1621 2632.5h31M1621 2738.5h31M1656.5 2626.5V2734.5M1641 2626.5h31M1641 2734.5h31M1675.5 2620.5V2730.5M1660 2620.5h31M1660 2730.5h31M1694.5 2613.5V2727.5M1679 2613.5h31M1679 2727.5h31M1713.5 2607.5V2725.5M1698 2607.5h31M1698 2725.5h31M1732.5 2602.5V2724.5M1717 2602.5h31M1717 2724.5h31M1752.5 2597.5V2723.5M1737 2597.5h31M1737 2723.5h31M1771.5 2593.5V2723.5M1756 2593.5h31M1756 2723.5h31M1790.5 2588.5V2724.5M1775 2588.5h31M1775 2724.5h31M1809.5 2585.5V2725.5M1794 2585.5h31M1794 2725.5h31M1829.5 2580.5V2726.5M1814 2580.5h31M1814 2726.5h31M1848.5 2576.5V2728.5M1833 2576.5h31M1833 2728.5h31M1867.5 2573.5V2729.5M1852 2573.5h31M1852 2729.5h31M1886.5 2569.5V2731.5M1871 2569.5h31M1871 2731.5h31M1905.5 2565.5V2731.5M1890 2565.5h31M1890 2731.5h31M1925.5 2561.5V2733.5M1910 2561.5h31M1910 2733.5h31M1944.5 2557.5V2735.5M1929 2557.5h31M1929 2735.5h31M1963.5 2553.5V2735.5M1948 2553.5h31M1948 2735.5h31M1982.5 2548.5V2736.5M1967 2548.5h31M1967 2736.5h31M2002.5 2543.5V2735.5M1987 2543.5h31M1987 2735.5h31M2021.5 2536.5V2734.5M2006 2536.5h31M2006 2734.5h31M2040.5 2529.5V2733.5M2025 2529.5h31M2025 2733.5h31M2059.5 2521.5V2731.5M2044 2521.5h31M2044 2731.5h31M2078.5 2507.5V2727.5M2063 2507.5h31M2063 2727.5h31M2098.5 2493.5V2719.5M2083 2493.5h31M2083 2719.5h31M2117.5 2470.5V2708.5M2102 2470.5h31M2102 2708.5h31M2136.5 2441.5V2691.5M2121 2441.5h31M2121 2691.5h31M2155.5 2404.5V2672.5M2140 2404.5h31M2140 2672.5h31" stroke="#000000" stroke-width="3" fill="none"/>
<path d="M277 3527h29v29h-29zM296 3440h29v29h-29zM315 3370h29v29h-29zM335 3316h29v29h-29zM354 3272h29v29h-29zM373 3236h29v29h-29zM392 3204h29v29h-29zM411 3176h29v29h-29zM431 3151h29v29h-29zM450 3128h29v29h-29zM469 3108h29v29h-29zM488 3090h29v29h-29zM508 3073h29v29h-29zM527 3057h29v29h-29zM546 3043h29v29h-29zM565 3031h29v29h-29zM584 3019h29v29h-29zM604 3009h29v29h-29zM623 3000h29v29h-29zM642 2992h29v29h-29zM661 2985h29v29h-29zM681 2979h29v29h-29zM700 2974h29v29h-29zM719 2970h29v29h-29zM738 2967h29v29h-29zM757 2965h29v29h-29zM777 2964h29v29h-29zM796 2962h29v29h-29zM815 2962h29v29h-29zM834 2962h29v29h-29zM854 2962h29v29h-29zM873 2963h29v29h-29zM892 2964h29v29h-29zM911 2965h29v29h-29zM930 2965h29v29h-29zM950 2966h29v29h-29zM969 2966h29v29h-29zM988 2966h29v29h-29zM1007 2966h29v29h-29zM1027 2965h29v29h-29zM1046 2963h29v29h-29zM1065 2961h29v29h-29zM1084 2957h29v29h-29zM1103 2953h29v29h-29zM1123 2948h29v29h-29zM1142 2941h29v29h-29zM1161 2934h29v29h-29zM1180 2927h29v29h-29zM1200 2918h29v29h-29zM1219 2908h29v29h-29zM1238 2897h29v29h-29zM1257 2886h29v29h-29zM1276 2874h29v29h-29zM1296 2861h29v29h-29zM1315 2849h29v29h-29zM1334 2836h29v29h-29zM1353 2823h29v29h-29zM1372 2810h29v29h-29zM1392 2797h29v29h-29zM1411 2784h29v29h-29zM1430 2771h29v29h-29zM1449 2759h29v29h-29zM1469 2746h29v29h-29zM1488 2735h29v29h-29zM1507 2723h29v29h-29zM1526 2713h29v29h-29zM1545 2703h29v29h-29zM1565 2694h29v29h-29zM1584 2686h29v29h-29zM1603 2678h29v29h-29zM1622 2671h29v29h-29zM1642 2666h29v29h-29zM1661 2661h29v29h-29zM1680 2656h29v29h-29zM1699 2652h29v29h-29zM1718 2649h29v29h-29zM1738 2646h29v29h-29zM1757 2644h29v29h-29zM1776 2642h29v29h-29zM1795 2641h29v29h-29zM1815 2639h29v29h-29zM1834 2638h29v29h-29zM1853 2637h29v29h-29zM1872 2636h29v29h-29zM1891 2634h29v29h-29zM1911 2633h29v29h-29zM1930 2632h29v29h-29zM1949 2630h29v29h-29zM1968 2628h29v29h-29zM1988 2625h29v29h-29zM2007 2621h29v29h-29zM2026 2617h29v29h-29zM2045 2612h29v29h-29zM2064 2603h29v29h-29zM2084 2592h29v29h-29zM2103 2575h29v29h-29zM2122 2552h29v29h-29zM2141 2524h29v29h-29z" fill="#000000"/>
</g>
<path d="M176.5 1993.5H2252M176.5 3568.5H2252M204.5 1993.5V3568.5M2223.5 1993.5V3568.5M189.5 3456H204.5M176.5 3343.5H204.5M189.5 3231H204.5M176.5 3118.5H204.5M189.5 3006H204.5M176.5 2893.5H204.5M189.5 2781H204.5M176.5 2668.5H204.5M189.5 2556H204.5M176.5 2443.5H204.5M189.5 2331H204.5M176.5 2218.5H204.5M189.5 2106H204.5M2223.5 3456H2238M2223.5 3343.5H2252M2223.5 3231H2238M2223.5 3118.5H2252M2223.5 3006H2238M2223.5 2893.5H2252M2223.5 2781H2238M2223.5 2668.5H2252M2223.5 2556H2238M2223.5 2443.5H2252M2223.5 2331H2238M2223.5 2218.5H2252M2223.5 2106H2238M253.5 3568.5V3597M445.7 3568.5V3583M637.9 3568.5V3597M830.1 3568.5V3583M1022.3 3568.5V3597M1214.5 3568.5V3583M1406.7 3568.5V3597M1598.9 3568.5V3583M1791.1 3568.5V3597M1983.3 3568.5V3583M2175.5 3568.5V3597" stroke="#000" stroke-width="7" fill="none" shape-rendering="crispEdges"/>
<g font-size="61.2" fill="#000">
<text transform="translate(156.7 3587) scale(1 1.035)" text-anchor="end">0</text>
<text transform="translate(156.7 3362) scale(1 1.035)" text-anchor="end">20</text>
<text transform="translate(156.7 3137) scale(1 1.035)" text-anchor="end">40</text>
<text transform="translate(156.7 2912) scale(1 1.035)" text-anchor="end">60</text>
<text transform="translate(156.7 2687) scale(1 1.035)" text-anchor="end">80</text>
<text transform="translate(156.7 2462) scale(1 1.035)" text-anchor="end">100</text>
<text transform="translate(156.7 2237) scale(1 1.035)" text-anchor="end">120</text>
<text transform="translate(156.7 2012) scale(1 1.035)" text-anchor="end">140</text>
<text transform="translate(2271 3587) scale(1 1.035)">-2</text>
<text transform="translate(2271 3362) scale(1 1.035)">0</text>
<text transform="translate(2271 3137) scale(1 1.035)">2</text>
<text transform="translate(2271 2912) scale(1 1.035)">4</text>
<text transform="translate(2271 2687) scale(1 1.035)">6</text>
<text transform="translate(2271 2462) scale(1 1.035)">8</text>
<text transform="translate(2271 2237) scale(1 1.035)">10</text>
<text transform="translate(2271 2012) scale(1 1.035)">12</text>
<text transform="translate(253.5 3664.4) scale(1 1.035)" text-anchor="middle">0.0</text>
<text transform="translate(637.9 3664.4) scale(1 1.035)" text-anchor="middle">0.2</text>
<text transform="translate(1022.3 3664.4) scale(1 1.035)" text-anchor="middle">0.4</text>
<text transform="translate(1406.7 3664.4) scale(1 1.035)" text-anchor="middle">0.6</text>
<text transform="translate(1791.1 3664.4) scale(1 1.035)" text-anchor="middle">0.8</text>
<text transform="translate(2175.5 3664.4) scale(1 1.035)" text-anchor="middle">1.0</text>
</g>
<text transform="translate(520 2117.9) scale(1 1.025)" font-size="82.2">Peat catalytic oxidation (KAS)</text>
<text transform="translate(982 3739.2) scale(1 1.025)" font-size="74.9">Conversion α</text>
<text transform="translate(80 2972) rotate(-90) scale(1 1.025)" font-size="75.6">Ea (kJ/mol)</text>
<text transform="translate(2371 2980) rotate(-90) scale(1 1.025)" font-size="75.6" letter-spacing="0.42">LnA, (A ,1/s)</text>
<g shape-rendering="crispEdges">
<path d="M267 2296.5H327M363 2296.5H423" stroke="#4d4d4d" stroke-width="3" fill="none"/>
<rect x="331" y="2282" width="28" height="28" fill="#0000ff"/>
<path d="M267 2381.5H327M363 2381.5H423" stroke="#f03232" stroke-width="3" fill="none"/>
<rect x="331" y="2367" width="28" height="28" fill="#000000"/>
</g>
<text transform="translate(441.5 2320) scale(1 1.025)" font-size="68.8">Ea</text>
<text transform="translate(441.5 2405) scale(1 1.025)" font-size="68.8">LnA</text>
</svg>
</body></html>
